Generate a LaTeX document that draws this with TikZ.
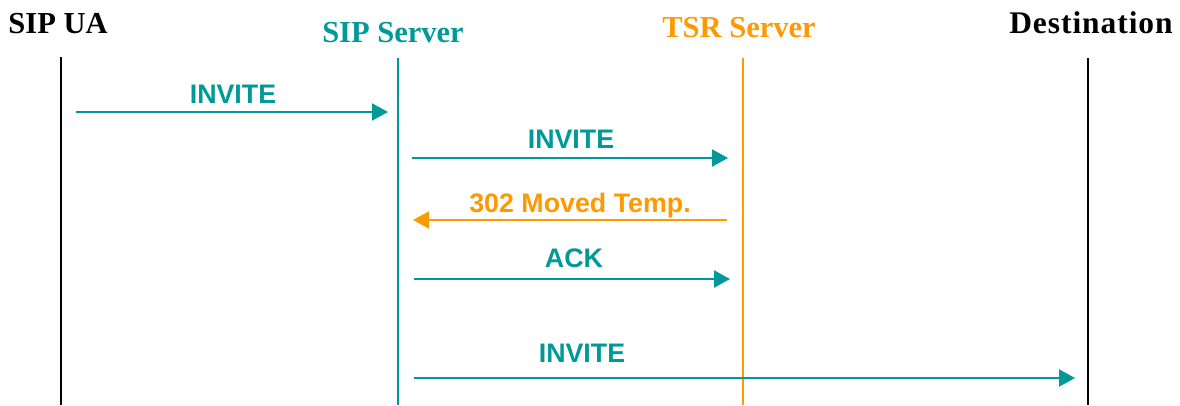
\documentclass[tikz,border=0pt]{standalone}
\usepackage{fontspec}
\setmainfont{Liberation Serif}
\newfontfamily\lblfont{Liberation Sans}
\usetikzlibrary{arrows.meta}
\definecolor{sipteal}{RGB}{0,153,153}
\definecolor{tsrorange}{RGB}{255,153,0}
\tikzset{
  header/.style={anchor=base, inner sep=0pt, font=\fontsize{30.5}{34}\selectfont\bfseries},
  msglabel/.style={anchor=base, inner sep=0pt, font=\lblfont\fontsize{26.8}{30}\selectfont\bfseries},
  lifeline/.style={line width=2pt},
  msg/.style={line width=2pt, -{Triangle[length=16pt,width=17pt]}},
}
\begin{document}
\begin{tikzpicture}[x=1pt,y=-1pt]
\useasboundingbox (0,0) rectangle (1180,405);
% headers
\node[header, text=black] (ua) at (58,33) {SIP UA};
\node[header, text=sipteal] (srv) at (393,42) {SIP Server};
\node[header, text=tsrorange] (tsr) at (739,37) {TSR Server};
\node[header, text=black, font=\fontsize{31.5}{34}\selectfont\bfseries\addfontfeature{LetterSpace=3}] (dst) at (1091,33) {Destination};
% lifelines
\coordinate (uaT) at (61,57);   \coordinate (uaB) at (61,405);
\coordinate (srvT) at (398,58); \coordinate (srvB) at (398,405);
\coordinate (tsrT) at (743,58); \coordinate (tsrB) at (743,405);
\coordinate (dstT) at (1088,58); \coordinate (dstB) at (1088,405);
\draw[lifeline, black] (uaT) -- (uaB);
\draw[lifeline, sipteal] (srvT) -- (srvB);
\draw[lifeline, tsrorange, line width=1.6pt] (tsrT) -- (tsrB);
\draw[lifeline, black] (dstT) -- (dstB);
% message end points
\coordinate (m1s) at (76,112);  \coordinate (m1e) at (388,112);
\coordinate (m2s) at (412,158); \coordinate (m2e) at (728,158);
\coordinate (m3s) at (727,220); \coordinate (m3e) at (413,220);
\coordinate (m4s) at (414,279); \coordinate (m4e) at (730,279);
\coordinate (m5s) at (414,378); \coordinate (m5e) at (1075,378);
% messages
\draw[msg, sipteal] (m1s) -- (m1e);
\node[msglabel, text=sipteal] (l1) at (233,103) {INVITE};
\draw[msg, sipteal] (m2s) -- (m2e);
\node[msglabel, text=sipteal] (l2) at (571,148) {INVITE};
\draw[msg, tsrorange] (m3s) -- (m3e);
\node[msglabel, text=tsrorange] (l3) at (580,212) {302 Moved Temp.};
\draw[msg, sipteal] (m4s) -- (m4e);
\node[msglabel, text=sipteal] (l4) at (574,267) {ACK};
\draw[msg, sipteal] (m5s) -- (m5e);
\node[msglabel, text=sipteal] (l5) at (582,362) {INVITE};
\end{tikzpicture}
\end{document}
